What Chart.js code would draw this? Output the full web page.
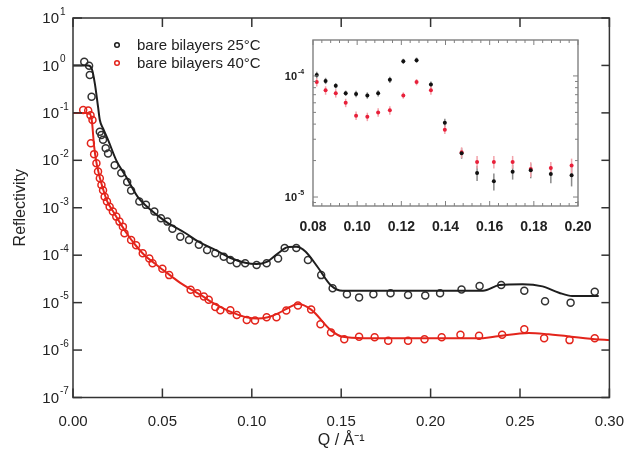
<!DOCTYPE html>
<html>
<head>
<meta charset="utf-8">
<script src="https://cdn.jsdelivr.net/npm/chart.js@4/dist/chart.umd.min.js"></script>
<style>
  body { margin: 0; background: #fff; }
  #wrap { position: relative; width: 631px; height: 458px; }
  #wrap canvas { position: absolute; }
</style>
</head>
<body>
<div id="wrap">
  <canvas id="main" width="631" height="458" style="left:0;top:0"></canvas>
  <canvas id="inset" width="330" height="205" style="left:270px;top:30px"></canvas>
</div>
<script>
/*******************************************************
 * data: reflectivity of bare bilayers, Q in 1/Å
 *******************************************************/
const q25 = [0.0063, 0.0090, 0.0094, 0.0104, 0.0150, 0.0159, 0.0168, 0.0183, 0.0196, 0.0233,
  0.0270, 0.0303, 0.0325, 0.0371, 0.0408, 0.0455, 0.0492, 0.0528, 0.0556, 0.0600,
  0.0649, 0.0704, 0.0750, 0.0796, 0.0843, 0.0880, 0.0916, 0.0963, 0.1027, 0.1083,
  0.1147, 0.1184, 0.1249, 0.1314, 0.1388, 0.1452, 0.1532, 0.1600, 0.1680, 0.1776,
  0.1874, 0.1970, 0.2053, 0.2173, 0.2274, 0.2395, 0.2524, 0.2640, 0.2783, 0.2918];
const r25 = [1.2, 0.99, 0.63, 0.22, 0.040, 0.034, 0.027, 0.018, 0.014, 0.0079,
  0.0054, 0.0035, 0.0023, 0.00135, 0.00115, 0.00083, 0.00060, 0.00051, 0.00036, 2.45e-4,
  2.1e-4, 1.66e-4, 1.29e-4, 1.10e-4, 9.3e-5, 7.9e-5, 6.8e-5, 6.8e-5, 6.2e-5, 6.8e-5,
  8.5e-5, 1.41e-4, 1.41e-4, 7.9e-5, 3.8e-5, 2.0e-5, 1.51e-5, 1.29e-5, 1.51e-5, 1.58e-5,
  1.45e-5, 1.41e-5, 1.58e-5, 1.9e-5, 2.24e-5, 2.34e-5, 1.78e-5, 1.07e-5, 1.0e-5, 1.7e-5];

const fitQ25 = [0, 0.0085, 0.0105, 0.0122, 0.0140, 0.0150, 0.0168, 0.0196, 0.0242, 0.0297,
  0.0362, 0.0427, 0.0519, 0.0630, 0.0704, 0.0796, 0.0889, 0.0963, 0.1027, 0.1083,
  0.1147, 0.1203, 0.1249, 0.1300, 0.1370, 0.1443, 0.1508, 0.1628, 0.2293, 0.2385,
  0.2515, 0.2626, 0.2718, 0.2792, 0.2940];
const fitR25 = [1.0, 1.0, 0.85, 0.42, 0.135, 0.071, 0.047, 0.027, 0.010, 0.0045,
  0.0017, 9.5e-4, 5.1e-4, 2.9e-4, 1.9e-4, 1.29e-4, 8.5e-5, 6.9e-5, 6.5e-5, 7.2e-5,
  1.1e-4, 1.48e-4, 1.51e-4, 1.2e-4, 5.5e-5, 2.3e-5, 1.78e-5, 1.78e-5, 1.78e-5, 2.34e-5,
  2.45e-5, 2.2e-5, 1.62e-5, 1.38e-5, 1.38e-5];

const q40 = [0.0057, 0.0085, 0.0098, 0.0109, 0.0100, 0.0118, 0.0131, 0.0140, 0.0150, 0.0159,
  0.0168, 0.0177, 0.0190, 0.0205, 0.0223, 0.0242, 0.0260, 0.0279, 0.0288, 0.0325,
  0.0353, 0.0390, 0.0427, 0.0445, 0.0500, 0.0538, 0.0658, 0.0695, 0.0732, 0.0759,
  0.0796, 0.0824, 0.0880, 0.0916, 0.0972, 0.1018, 0.1083, 0.1138, 0.1193, 0.1258,
  0.1332, 0.1384, 0.1443, 0.1517, 0.1600, 0.1687, 0.1763, 0.1874, 0.1966, 0.2062,
  0.2167, 0.2271, 0.2400, 0.2524, 0.2635, 0.2777, 0.2918];
const r40 = [0.115, 0.112, 0.089, 0.071, 0.023, 0.0135, 0.0087, 0.0058, 0.0042, 0.0030,
  0.00234, 0.0017, 0.00135, 0.00105, 8.3e-4, 6.5e-4, 5.1e-4, 4.0e-4, 2.9e-4, 2.1e-4,
  1.62e-4, 1.1e-4, 8.5e-5, 6.8e-5, 5.2e-5, 3.8e-5, 1.86e-5, 1.58e-5, 1.35e-5, 1.15e-5,
  8.1e-6, 6.9e-6, 6.9e-6, 5.5e-6, 4.3e-6, 4.2e-6, 4.9e-6, 4.9e-6, 6.8e-6, 8.7e-6,
  7.2e-6, 3.5e-6, 2.34e-6, 1.7e-6, 1.9e-6, 1.86e-6, 1.58e-6, 1.58e-6, 1.7e-6, 1.86e-6,
  2.1e-6, 2.0e-6, 2.1e-6, 2.75e-6, 1.78e-6, 1.62e-6, 1.78e-6];

const fitQ40 = [0, 0.0088, 0.0105, 0.0118, 0.0130, 0.0140, 0.0150, 0.0168, 0.0190, 0.0223,
  0.0260, 0.0300, 0.0350, 0.0400, 0.0450, 0.0500, 0.0550, 0.0600, 0.0660, 0.0720,
  0.0780, 0.0840, 0.0900, 0.0970, 0.1030, 0.1090, 0.1150, 0.1210, 0.1258, 0.1332,
  0.1443, 0.1508, 0.1630, 0.2293, 0.2375, 0.2550, 0.2660, 0.2918, 0.3000];
const fitR40 = [0.1, 0.1, 0.07, 0.02, 0.0095, 0.0062, 0.0043, 0.0025, 0.0014, 8.5e-4,
  5.0e-4, 2.9e-4, 1.62e-4, 1.0e-4, 7.0e-5, 5.0e-5, 3.6e-5, 2.6e-5, 1.9e-5, 1.4e-5,
  1.0e-5, 7.6e-6, 6.0e-6, 4.9e-6, 4.6e-6, 4.9e-6, 6.0e-6, 8.0e-6, 9.3e-6, 7.1e-6,
  2.6e-6, 1.9e-6, 1.78e-6, 1.78e-6, 1.95e-6, 2.3e-6, 2.15e-6, 1.7e-6, 1.62e-6];

// inset: zoom on the Bragg peak, with error bars (in percent)
const insetQ = [0.0817, 0.0857, 0.0903, 0.0948, 0.0995, 0.1046, 0.1095, 0.1148, 0.1209, 0.1269,
  0.1334, 0.1397, 0.1473, 0.1543, 0.1619, 0.1704, 0.1786, 0.1877, 0.1971];
const insetR25 = [1.02e-4, 9.1e-5, 8.3e-5, 7.2e-5, 7.1e-5, 6.9e-5, 7.2e-5, 9.3e-5, 1.32e-4, 1.35e-4,
  8.5e-5, 4.1e-5, 2.3e-5, 1.58e-5, 1.35e-5, 1.62e-5, 1.66e-5, 1.55e-5, 1.51e-5];
const insetR40 = [8.9e-5, 7.6e-5, 7.2e-5, 6.0e-5, 4.7e-5, 4.6e-5, 5.0e-5, 5.2e-5, 6.9e-5, 8.9e-5,
  7.6e-5, 3.6e-5, 2.34e-5, 1.95e-5, 1.95e-5, 1.95e-5, 1.7e-5, 1.74e-5, 1.82e-5];
const insetErr25 = [6, 6, 5, 5, 6, 6, 6, 6, 5, 5, 6, 8, 10, 14, 16, 14, 14, 16, 19];
const insetErr40 = [8, 8, 8, 8, 8, 8, 8, 8, 6, 6, 8, 8, 10, 12, 12, 12, 14, 12, 14];

// tick values
const mainYTicks = [1e-7, 1e-6, 1e-5, 1e-4, 1e-3, 1e-2, 1e-1, 1, 10];
const insetXTicks = [0.08, 0.10, 0.12, 0.14, 0.16, 0.18, 0.20];
const insetYTicks = [1e-5, 1e-4];

const legendLabels = ['bare bilayers 25°C', 'bare bilayers 40°C'];

const BLACK = '#1e1e1e';
const RED = '#e3241b';
const FONT = "'Liberation Sans', Arial, sans-serif";

Chart.defaults.font.family = FONT;
Chart.defaults.color = '#222';

const pts = (xs, ys) => xs.map((x, i) => ({ x: x, y: ys[i] }));

/*******************************************************
 * helpers for the hand-drawn frame, inward ticks, 10^n labels
 *******************************************************/
function seg(ctx, x1, y1, x2, y2) {
  ctx.beginPath();
  ctx.moveTo(x1, y1);
  ctx.lineTo(x2, y2);
  ctx.stroke();
}

function drawPowerLabels(ctx, scale, xRight, bigFont, smallFont, rise) {
  scale.ticks.forEach(t => {
    const py = scale.getPixelForValue(t.value);
    const exp = Math.round(Math.log10(t.value)).toString();
    ctx.font = bigFont;
    ctx.textAlign = 'right';
    ctx.textBaseline = 'middle';
    ctx.fillText('10', xRight, py + 1);
    ctx.font = smallFont;
    ctx.textAlign = 'left';
    ctx.fillText(exp, xRight + 1, py - rise);
  });
}

const mainDecor = {
  id: 'mainDecor',
  afterDraw(chart) {
    const { ctx, chartArea: a, scales: { x, y } } = chart;
    ctx.save();
    ctx.strokeStyle = '#333';
    ctx.lineWidth = 1.5;
    ctx.strokeRect(a.left, a.top, a.right - a.left, a.bottom - a.top);

    // inward major ticks on all four sides
    x.ticks.forEach(t => {
      const px = x.getPixelForValue(t.value);
      seg(ctx, px, a.bottom, px, a.bottom - 9);
      seg(ctx, px, a.top, px, a.top + 9);
    });
    y.ticks.forEach(t => {
      const py = y.getPixelForValue(t.value);
      seg(ctx, a.left, py, a.left + 9, py);
      seg(ctx, a.right, py, a.right - 8, py);
    });

    ctx.fillStyle = '#222';
    drawPowerLabels(ctx, y, 59, '15px ' + FONT, '10px ' + FONT, 6);

    // legend
    [BLACK, RED].forEach((c, i) => {
      const ly = 45 + i * 18;
      ctx.strokeStyle = c;
      ctx.lineWidth = 1.5;
      ctx.beginPath();
      ctx.arc(117, ly, 2.3, 0, Math.PI * 2);
      ctx.stroke();
      ctx.fillStyle = '#222';
      ctx.font = '15px ' + FONT;
      ctx.textAlign = 'left';
      ctx.textBaseline = 'middle';
      ctx.fillText(legendLabels[i], 137, ly + 1);
    });
    ctx.restore();
  }
};

const insetDecor = {
  id: 'insetDecor',
  beforeDatasetsDraw(chart) {
    // vertical error bars under the points
    const { ctx, scales: { x, y } } = chart;
    ctx.save();
    ctx.lineWidth = 1.5;
    [[insetR25, insetErr25, '#8a8a8a'], [insetR40, insetErr40, '#f3a3ab']].forEach(([vals, errs, col]) => {
      ctx.strokeStyle = col;
      insetQ.forEach((q, i) => {
        const px = x.getPixelForValue(q);
        const hi = y.getPixelForValue(vals[i] * (1 + errs[i] / 100));
        const lo = y.getPixelForValue(vals[i] * (1 - errs[i] / 100));
        seg(ctx, px, hi, px, lo);
      });
    });
    ctx.restore();
  },
  afterDraw(chart) {
    const { ctx, chartArea: a, scales: { x, y } } = chart;
    ctx.save();
    ctx.strokeStyle = '#808080';
    ctx.lineWidth = 1.4;
    ctx.strokeRect(a.left, a.top, a.right - a.left, a.bottom - a.top);

    ctx.lineWidth = 1;
    // x: major at labels, minor every 0.004
    for (let v = 0.08; v <= 0.2001; v += 0.004) {
      const px = x.getPixelForValue(v);
      const major = insetXTicks.some(t => Math.abs(t - v) < 1e-6);
      const len = major ? 5 : 3;
      seg(ctx, px, a.bottom, px, a.bottom - len);
      seg(ctx, px, a.top, px, a.top + len);
    }
    // y: decades plus 2..9 minors
    for (let e = -6; e <= -4; e++) {
      for (let m = 1; m <= 9; m++) {
        const v = m * Math.pow(10, e);
        if (v < y.min || v > y.max) continue;
        const py = y.getPixelForValue(v);
        const len = m === 1 ? 5 : 3;
        seg(ctx, a.left, py, a.left + len, py);
        seg(ctx, a.right, py, a.right - len, py);
      }
    }

    ctx.fillStyle = '#222';
    drawPowerLabels(ctx, y, 27, 'bold 11px ' + FONT, 'bold 7px ' + FONT, 4);
    ctx.restore();
  }
};

/*******************************************************
 * main chart
 *******************************************************/
new Chart(document.getElementById('main'), {
  type: 'scatter',
  data: {
    datasets: [
      {
        label: 'fit 25', data: pts(fitQ25, fitR25), showLine: true,
        borderColor: BLACK, borderWidth: 2, pointRadius: 0,
        cubicInterpolationMode: 'monotone'
      },
      {
        label: 'fit 40', data: pts(fitQ40, fitR40), showLine: true,
        borderColor: RED, borderWidth: 2, pointRadius: 0,
        cubicInterpolationMode: 'monotone'
      },
      {
        label: legendLabels[0], data: pts(q25, r25),
        pointStyle: 'circle', pointRadius: 3.5, pointBorderWidth: 1.5,
        borderColor: '#333', backgroundColor: 'rgba(0,0,0,0)'
      },
      {
        label: legendLabels[1], data: pts(q40, r40),
        pointStyle: 'circle', pointRadius: 3.5, pointBorderWidth: 1.5,
        borderColor: RED, backgroundColor: 'rgba(0,0,0,0)'
      }
    ]
  },
  options: {
    responsive: false,
    animation: false,
    layout: { padding: { top: 18, right: 17, left: 0, bottom: 0 } },
    plugins: { legend: { display: false }, tooltip: { enabled: false } },
    scales: {
      x: {
        type: 'linear', min: 0, max: 0.3,
        grid: { display: false }, border: { display: false },
        ticks: { stepSize: 0.05, padding: 7, font: { size: 15 }, callback: v => v.toFixed(2) },
        title: { display: true, text: 'Q / Å⁻¹', font: { size: 16 }, padding: { bottom: 8 } },
        afterFit: s => { s.height = 60.5; }
      },
      y: {
        type: 'logarithmic', min: 1e-7, max: 10,
        grid: { display: false }, border: { display: false },
        ticks: { display: false },
        afterBuildTicks: s => { s.ticks = mainYTicks.map(v => ({ value: v })); },
        title: { display: true, text: 'Reflectivity', font: { size: 16 }, padding: { top: 11 } },
        afterFit: s => { s.width = 73; }
      }
    }
  },
  plugins: [mainDecor]
});

/*******************************************************
 * inset chart
 *******************************************************/
new Chart(document.getElementById('inset'), {
  type: 'scatter',
  data: {
    datasets: [
      {
        label: '25', data: pts(insetQ, insetR25),
        pointRadius: 2, pointBorderWidth: 0, backgroundColor: '#111'
      },
      {
        label: '40', data: pts(insetQ, insetR40),
        pointRadius: 2, pointBorderWidth: 0, backgroundColor: '#e8203a'
      }
    ]
  },
  options: {
    responsive: false,
    animation: false,
    layout: { padding: { top: 10, right: 22, left: 0, bottom: 0 } },
    plugins: { legend: { display: false }, tooltip: { enabled: false } },
    scales: {
      x: {
        type: 'linear', min: 0.08, max: 0.20,
        grid: { display: false }, border: { display: false },
        afterBuildTicks: s => { s.ticks = insetXTicks.map(v => ({ value: v })); },
        ticks: { padding: 5, font: { size: 14, weight: 'bold' }, callback: v => v.toFixed(2) },
        afterFit: s => { s.height = 29; }
      },
      y: {
        type: 'logarithmic', min: 8.43e-6, max: 1.98e-4,
        grid: { display: false }, border: { display: false },
        ticks: { display: false },
        afterBuildTicks: s => { s.ticks = insetYTicks.map(v => ({ value: v })); },
        afterFit: s => { s.width = 43; }
      }
    }
  },
  plugins: [insetDecor]
});
</script>
</body>
</html>
